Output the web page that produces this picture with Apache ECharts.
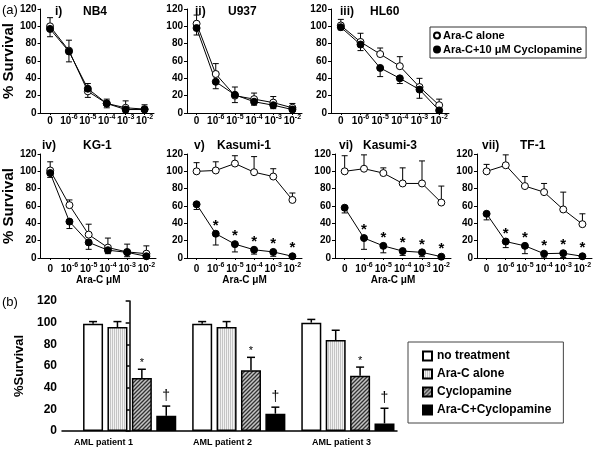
<!DOCTYPE html>
<html><head><meta charset="utf-8">
<script src="https://cdn.jsdelivr.net/npm/echarts@6/dist/echarts.min.js"></script>
<style>html,body{margin:0;padding:0;background:#fff}#c{width:594px;height:449px}</style>
</head><body><div id="c"></div><script>
// ---------- data ----------
const doses = ['0','10-6','10-5','10-4','10-3','10-2'];
const panelTags = ['i)','ii)','iii)','iv)','v)','vi)','vii)'];
const panelNames = ['NB4','U937','HL60','KG-1','Kasumi-1','Kasumi-3','TF-1'];

const nb4Alone = [100,72,25,11,6,4.5];   const nb4AloneErr = [10,12,9,5,8,5];
const nb4Cyc   = [97,71,28,11,4,4];      const nb4CycErr   = [9,12,10,5,3,2];
const u937Alone = [103,45,20,16,12,6];   const u937AloneErr = [10,12,10,7,7,5];
const u937Cyc   = [98,36,21,13,9,4];     const u937CycErr   = [8,8,9,4,4,2];
const hl60Alone = [101,82,68,54,30,9];   const hl60AloneErr = [7,10,7,11,10,7];
const hl60Cyc   = [99,79,52,40,27,3];    const hl60CycErr   = [3,7,10,6,10,2];
const kg1Alone = [101,61,27,12,7,5];     const kg1AloneErr = [10,6,12,11,9,9];
const kg1Cyc   = [98,42,18,9,6.5,2];     const kg1CycErr   = [5,8,8,4,5,2];
const kas1Alone = [100,101,109,99,94,67]; const kas1AloneErr = [10,10,9,18,9,8];
const kas1Cyc   = [62,28,16,9.5,7,2];     const kas1CycErr   = [6,13,9,5,5,1];
const kas3Alone = [100,103,98,86,86,64];  const kas3AloneErr = [18,16,6,18,26,19];
const kas3Cyc   = [58,23,14,8,6.5,1.5];   const kas3CycErr   = [6,13,8,5,5,1];
const tf1Alone = [100,107,83,76,56,39];   const tf1AloneErr = [8,12,11,10,20,12];
const tf1Cyc   = [51,19,14,5,5.5,2];      const tf1CycErr   = [7,7,9,5,5,1];
const noStars = [0,0,0,0,0,0];
const sigStars = [0,1,1,1,1,1];

const patients = ['AML patient 1','AML patient 2','AML patient 3'];
const barNames = ['no treatment','Ara-C alone ','Cyclopamine','Ara-C+Cyclopamine'];
const noTreat = [99,99,100];   const noTreatErr = [2,2,3];
const araC    = [96,96,84];    const araCErr    = [5,5,9];
const cyclo   = [49,56,51];    const cycloErr   = [8,12,8];
const combo   = [14,16,7];     const comboErr   = [9,6,14];
const cycloMarks = ['*','*','*'];
const comboMarks = ['\u2020','\u2020','\u2020'];

const panels = [
  [nb4Alone,nb4AloneErr,nb4Cyc,nb4CycErr,noStars],
  [u937Alone,u937AloneErr,u937Cyc,u937CycErr,noStars],
  [hl60Alone,hl60AloneErr,hl60Cyc,hl60CycErr,noStars],
  [kg1Alone,kg1AloneErr,kg1Cyc,kg1CycErr,noStars],
  [kas1Alone,kas1AloneErr,kas1Cyc,kas1CycErr,sigStars],
  [kas3Alone,kas3AloneErr,kas3Cyc,kas3CycErr,sigStars],
  [tf1Alone,tf1AloneErr,tf1Cyc,tf1CycErr,sigStars]
];

// ---------- layout ----------
const FF = '"Liberation Sans", Arial, sans-serif';
const gridPos = [[39,9,115],[187,9,115],[331,9,118],[40,154,116],[187,154,115],[335,154,116],[477,154,116]];
const tagPos = [[55,6],[195,6],[340,6],[42,140],[194,140],[339,140],[482,140]];
const namePos = [[83,6],[228,6],[370,6],[83,140],[217,140],[363,140],[520,140]];

function pattern(kind){
  const c = document.createElement('canvas');
  const g = c.getContext('2d');
  if (kind === 'stripe') {
    c.width = 2; c.height = 2;
    g.fillStyle = '#f2f2f2'; g.fillRect(0,0,2,2);
    g.fillStyle = '#c4c4c4'; g.fillRect(0,0,1,2);
  } else {
    c.width = 4; c.height = 4;
    g.fillStyle = '#c4c4c4'; g.fillRect(0,0,4,4);
    g.strokeStyle = '#333'; g.lineWidth = 1.3;
    g.beginPath(); g.moveTo(-1,5); g.lineTo(5,-1); g.moveTo(-1,1); g.lineTo(1,-1); g.moveTo(3,5); g.lineTo(5,3); g.stroke();
  }
  return {image: c, repeat: 'repeat'};
}

function fmtDose(v){
  return v === '0' ? '{b|0}' : '{b|10}{s|' + v.slice(2) + '}';
}

function errRender(dir, stars){
  return function(params, api){
    const i = api.value(0), v = api.value(1), e = api.value(2);
    const p = api.coord([i, v]);
    const q = api.coord([i, Math.max(0, v + dir * e)]);
    const st = {stroke:'#000', lineWidth:1};
    const ch = [
      {type:'line', shape:{x1:p[0],y1:p[1],x2:q[0],y2:q[1]}, style:st},
      {type:'line', shape:{x1:q[0]-3,y1:q[1],x2:q[0]+3,y2:q[1]}, style:st}
    ];
    if (stars && stars[params.dataIndex]) {
      ch.push({type:'text', x:p[0], y:p[1]-8, style:{text:'*', fill:'#000', font:'bold 15px ' + FF, textAlign:'center', textVerticalAlign:'middle'}});
    }
    return {type:'group', children:ch};
  };
}

function barErrRender(k, marks){
  return function(params, api){
    const j = api.value(0), v = api.value(1), e = api.value(2);
    const p = api.coord([j, v]);
    const q = api.coord([j, v + e]);
    const x = p[0] + (k - 1.5) * 24.4;
    const st = {stroke:'#000', lineWidth:1.5};
    const ch = [
      {type:'line', shape:{x1:x,y1:p[1],x2:x,y2:q[1]}, style:st},
      {type:'line', shape:{x1:x-4,y1:q[1],x2:x+4,y2:q[1]}, style:st}
    ];
    if (marks) {
      const m = marks[params.dataIndex];
      const isStar = m === '*';
      ch.push({type:'text', x:x, y: q[1] - (isStar ? 1 : 3), style:{text:m, fill:'#000',
        font:(isStar ? '11px ' : '14px ') + FF, textAlign:'center', textVerticalAlign:'bottom'}});
    }
    return {type:'group', children:ch};
  };
}

const grid = [], xAxis = [], yAxis = [], series = [], title = [];
panels.forEach((pd, i) => {
  const [l, t, w] = gridPos[i];
  grid.push({left:l, top:t, width:w, height:104});
  const bottomRow = i >= 3;
  xAxis.push({type:'category', gridIndex:i, data:doses, boundaryGap:true,
    axisLine:{lineStyle:{color:'#000', width:1}},
    axisTick:{show:true, alignWithLabel:true, length:2, lineStyle:{color:'#000'}},
    axisLabel:{interval:0, margin: bottomRow ? 4 : 1, color:'#000', formatter: fmtDose,
      rich:{ b:{fontSize:10, fontWeight:'bold', fontFamily:FF, color:'#000', lineHeight:12, verticalAlign:'bottom'},
             s:{fontSize:7, fontWeight:'bold', fontFamily:FF, color:'#000', lineHeight:8, verticalAlign:'top'} }},
    name: (i >= 3 && i <= 5) ? 'Ara-C \u03bcM' : '', nameLocation:'middle', nameGap:17,
    nameTextStyle:{fontSize:10, fontWeight:'bold', fontFamily:FF, color:'#000'}});
  yAxis.push({type:'value', gridIndex:i, min:0, max:120, interval:20,
    axisLine:{show:true, lineStyle:{color:'#000', width:1}},
    axisTick:{show:true, length:3, lineStyle:{color:'#000'}},
    splitLine:{show:false},
    axisLabel:{fontSize:10, fontWeight:'bold', fontFamily:FF, color:'#000', margin:4},
    name: (i === 0 || i === 3) ? '% Survival' : '', nameLocation:'middle', nameGap:20, nameRotate:90,
    nameTextStyle:{fontSize:15, fontWeight:'bold', fontFamily:FF, color:'#000'}});
  const [alone, aloneErr, cyc, cycErr, stars] = pd;
  series.push({type:'custom', xAxisIndex:i, yAxisIndex:i, z:1, silent:true, renderItem: errRender(1, null),
    encode:{x:0, y:1}, data: alone.map((v, j) => [j, v, aloneErr[j]])});
  series.push({type:'custom', xAxisIndex:i, yAxisIndex:i, z:1, silent:true, renderItem: errRender(-1, stars),
    encode:{x:0, y:1}, data: cyc.map((v, j) => [j, v, cycErr[j]])});
  series.push({type:'line', name:'Ara-C alone', xAxisIndex:i, yAxisIndex:i, data: alone, z:3,
    symbol:'circle', symbolSize:7, itemStyle:{color:'#fff', borderColor:'#000', borderWidth:1},
    lineStyle:{color:'#000', width:1}});
  series.push({type:'line', name:'Ara-C+10 \u03bcM Cyclopamine', xAxisIndex:i, yAxisIndex:i, data: cyc, z:3,
    symbol:'circle', symbolSize:7, itemStyle:{color:'#000', borderColor:'#000', borderWidth:1},
    lineStyle:{color:'#000', width:1}});
  title.push({text: panelTags[i], left: tagPos[i][0], top: tagPos[i][1], padding:0,
    textStyle:{fontSize:12, fontWeight:'bold', fontFamily:FF, color:'#000'}});
  title.push({text: panelNames[i], left: namePos[i][0], top: namePos[i][1], padding:0,
    textStyle:{fontSize:12, fontWeight:'bold', fontFamily:FF, color:'#000'}});
});
title.push({text:'(a)', left:2, top:4, padding:0, textStyle:{fontSize:13, fontWeight:'normal', fontFamily:FF, color:'#000'}});
title.push({text:'(b)', left:2, top:296, padding:0, textStyle:{fontSize:13, fontWeight:'normal', fontFamily:FF, color:'#000'}});

// panel (b)
grid.push({left:62, top:301, width:335, height:130});   // 7
grid.push({left:44, top:301, width:357, height:130});   // 8
xAxis.push({type:'value', gridIndex:7, min:-0.62, max:2.45,
  axisLine:{show:true, onZero:false, lineStyle:{color:'#000', width:1.5}},
  axisTick:{show:false}, axisLabel:{show:false}, splitLine:{show:false}});
xAxis.push({type:'category', gridIndex:8, data:patients,
  axisLine:{show:false}, axisTick:{show:false},
  axisLabel:{fontSize:9, fontWeight:'bold', fontFamily:FF, color:'#000', margin:7}});
yAxis.push({type:'value', gridIndex:7, min:0, max:120, interval:20,
  axisLine:{show:true, lineStyle:{color:'#000', width:1.5}},
  axisTick:{show:true, length:4, lineStyle:{color:'#000', width:1.5}},
  splitLine:{show:false},
  axisLabel:{fontSize:12, fontWeight:'bold', fontFamily:FF, color:'#000', margin:5},
  name:'%Survival', nameLocation:'middle', nameGap:27, nameRotate:90,
  nameTextStyle:{fontSize:13, fontWeight:'bold', fontFamily:FF, color:'#000'}});
yAxis.push({type:'value', gridIndex:8, show:false, min:0, max:120});

const barVals = [noTreat, araC, cyclo, combo];
const barErrs = [noTreatErr, araCErr, cycloErr, comboErr];
const barMarks = [null, null, cycloMarks, comboMarks];
const barColors = ['#ffffff', pattern('stripe'), pattern('hatch'), '#000000'];
barVals.forEach((vals, k) => {
  series.push({type:'bar', name: barNames[k], xAxisIndex:7, yAxisIndex:7, barWidth:20, barGap:'22%',
    itemStyle:{color: barColors[k], borderColor:'#000', borderWidth:1.5},
    data: vals.map((v, j) => [j, v])});
});
barVals.forEach((vals, k) => {
  series.push({type:'custom', xAxisIndex:7, yAxisIndex:7, z:4, silent:true, encode:{x:0, y:1},
    renderItem: barErrRender(k, barMarks[k]), data: vals.map((v, j) => [j, v, barErrs[k][j]])});
});

const option = {
  animation:false,
  backgroundColor:'#fff',
  textStyle:{fontFamily:FF},
  title,
  grid, xAxis, yAxis, series,
  legend:[
    {orient:'vertical', left:430, top:27, padding:[3,4,3,3], itemGap:3, itemWidth:6, itemHeight:6,
     borderColor:'#333', borderWidth:1,
     textStyle:{fontSize:11, fontWeight:'bold', fontFamily:FF, color:'#000', padding:[0,0,0,-2]},
     data:[{name:'Ara-C alone', icon:'circle'}, {name:'Ara-C+10 \u03bcM Cyclopamine', icon:'circle'}]},
    {orient:'vertical', left:408, top:342, padding:[8,12,7,14], itemGap:6, itemWidth:9, itemHeight:9,
     borderColor:'#444', borderWidth:1,
     textStyle:{fontSize:12, fontWeight:'bold', fontFamily:FF, color:'#000'},
     data: barNames.map(n => ({name:n, icon:'rect'}))}
  ]
};
const chart = echarts.init(document.getElementById('c'), null, {renderer:'canvas'});
chart.setOption(option);
</script></body></html>
